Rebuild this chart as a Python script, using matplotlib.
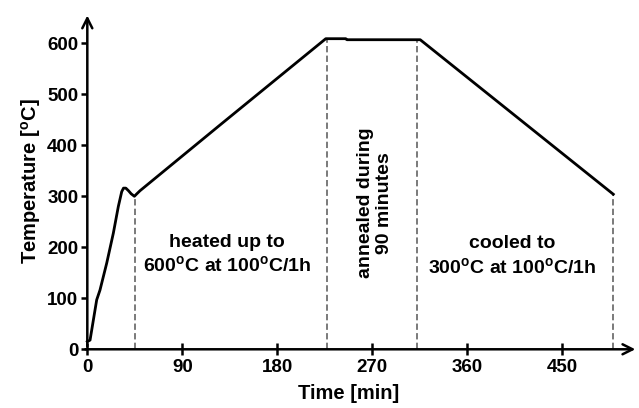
import matplotlib
matplotlib.use("Agg")
import matplotlib.pyplot as plt

plt.rcParams['font.family'] = ['Liberation Sans', 'DejaVu Sans']
plt.rcParams['font.weight'] = 'bold'
plt.rcParams['mathtext.fontset'] = 'custom'
plt.rcParams['mathtext.bf'] = 'Liberation Sans:bold'
plt.rcParams['mathtext.rm'] = 'Liberation Sans:bold'

# temperature profile
time_min = [0, 2.6, 4.2, 8.9, 12, 18.4, 24.7, 29.4, 32.6, 34.3, 36.5, 39, 41.5, 44.6,
            47, 50, 125.9, 226, 245, 246, 315.5, 498.5]
temp_c = [15, 18, 38, 97, 116, 169, 228, 280, 309, 316, 316, 311, 305, 300,
          305, 311, 440, 609, 609, 607, 607, 304]

# dashed markers (time, top of the line)
marks_min = [45.2, 227.6, 312.4, 498.5]
marks_top = [300, 608, 607, 304]
x_ticks = [0, 90, 180, 270, 360, 450]
y_ticks = [0, 100, 200, 300, 400, 500, 600]

deg = r'$^{\mathbf{o}}$'

fig = plt.figure(figsize=(6.39, 4.08), dpi=100)
ax = fig.add_axes([0.1292, 0.1439, 0.8694, 0.825])

for m, top in zip(marks_min, marks_top):
    ax.plot([m, m], [0, top], color='#707070', lw=1.3, ls=(0, (3.5, 1.8)), zorder=1)

ax.plot(time_min, temp_c, color='black', lw=2.0, zorder=3)

ax.set_xlim(-4.5, 522)
ax.set_ylim(0, 660)
ax.set_xticks(x_ticks)
ax.set_yticks(y_ticks)
ax.tick_params(axis='x', direction='inout', length=8, width=1.8, labelsize=13.5, pad=3)
ax.tick_params(axis='y', direction='out', length=4.5, width=1.8, labelsize=13.5, pad=2)
for t in ax.get_xticklabels() + ax.get_yticklabels():
    t.set_fontweight('bold')

ax.spines['left'].set_position(('data', 0))
for s in ['top', 'right', 'left', 'bottom']:
    ax.spines[s].set_visible(False)

# axes with arrow heads
ax.annotate('', xy=(522, 0), xytext=(-4.5, 0),
            arrowprops=dict(arrowstyle='->', lw=1.8, color='black', mutation_scale=18),
            annotation_clip=False)
ax.annotate('', xy=(0, 660), xytext=(0, 0),
            arrowprops=dict(arrowstyle='->', lw=1.8, color='black', mutation_scale=18),
            annotation_clip=False)

ax.text(132.7, 185, 'heated up to\n600' + deg + 'C at 100' + deg + 'C/1h',
        ha='center', va='center', fontsize=14, fontweight='bold', linespacing=1.3)
ax.text(402.5, 182, 'cooled to\n300' + deg + 'C at 100' + deg + 'C/1h',
        ha='center', va='center', fontsize=14, fontweight='bold', linespacing=1.3)
ax.text(272.7, 287, 'annealed during\n90 minutes', rotation=90,
        ha='center', va='center', fontsize=14, fontweight='bold', linespacing=1.2)

ax.set_ylabel('Temperature [' + deg + 'C]', fontsize=14.5, fontweight='bold', labelpad=3)
fig.text(0.546, 0.035, 'Time [min]', ha='center', va='center', fontsize=14.5, fontweight='bold')

fig.savefig('out.png', dpi=100)
